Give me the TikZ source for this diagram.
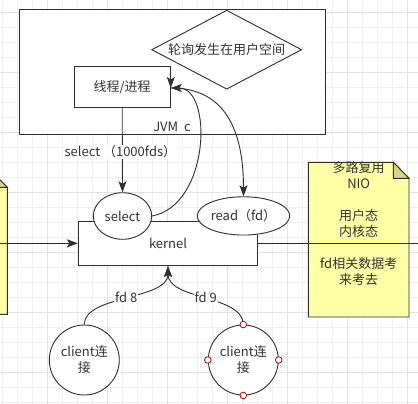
\documentclass[tikz,border=0pt]{standalone}
\usepackage{fontspec}
\setmainfont{Noto Sans CJK SC}
\usetikzlibrary{shapes.geometric,arrows.meta}
\definecolor{ln}{HTML}{2F2F2F}
\definecolor{tx}{HTML}{333333}
\definecolor{gridminor}{HTML}{F0F0F0}
\definecolor{gridmajor}{HTML}{E2E2E2}
\definecolor{notefill}{HTML}{FFFFA6}
\definecolor{foldfill}{HTML}{D8D48C}
\definecolor{handle}{HTML}{B20000}
\tikzset{
  lbl/.style={font=\fontsize{13}{16}\selectfont, text=tx, align=center},
  box/.style={draw=ln, fill=white, line width=0.9pt, inner sep=0pt, lbl},
  ell/.style={ellipse, draw=ln, fill=white, line width=0.9pt, inner sep=0pt, lbl},
  arr/.style={draw=ln, line width=0.9pt, -{Stealth[length=11pt,width=8pt,inset=2.5pt]}},
  conn/.style={draw=ln, line width=0.9pt},
  edgelbl/.style={lbl, fill=white, inner sep=1pt},
  hnd/.style={circle, draw=handle, fill=white, line width=0.8pt, minimum size=6.6pt, inner sep=0pt},
  notebody/.style={draw=ln, fill=notefill, line width=0.9pt},
  notefold/.style={draw=ln, fill=foldfill, line width=0.9pt}
}
\begin{document}
\begin{tikzpicture}[x=1pt,y=-1pt]
\useasboundingbox (0,0) rectangle (418,404);
\clip (0,0) rectangle (418,404);
\fill[white] (0,0) rectangle (418,404);
% grid
\foreach \i in {0,...,27} { \draw[gridminor, line width=0.8pt] ({2.3+15*\i},0) -- ({2.3+15*\i},404); }
\foreach \i in {0,...,26} { \draw[gridminor, line width=0.8pt] (0,{12.3+15*\i}) -- (418,{12.3+15*\i}); }
\foreach \i in {0,...,6} { \draw[gridmajor, line width=0.8pt] ({47.3+60*\i},0) -- ({47.3+60*\i},404); }
\foreach \i in {0,...,6} { \draw[gridmajor, line width=0.8pt] (0,{12.3+60*\i}) -- (418,{12.3+60*\i}); }

% JVM container
\node[box, minimum width=306.4pt, minimum height=125pt] (jvm) at (172.5,71.8) {};
\node[lbl] (jvmlbl) at (172,127) {JVM\ \ c};
\node[diamond, draw=ln, fill=white, line width=0.9pt, inner sep=0pt, shape aspect=1.9,
      minimum width=150pt, minimum height=79pt, lbl] (poll) at (226.7,49.7) {轮询发生在用户空间};
\node[box, minimum width=96.3pt, minimum height=41pt] (thread) at (122.2,86.8) {线程/进程};

% notes
\path[notebody] (-100,171.3) -- (-8.7,171.3) -- (7.3,187.3) -- (7.3,314.3) -- (-100,314.3) -- cycle;
\path[notefold] (-8.7,171.3) -- (-8.7,187.3) -- (7.3,187.3) -- cycle;
\path[notebody] (308.3,162.3) -- (393.3,162.3) -- (409,178.3) -- (409,317) -- (308.3,317) -- cycle;
\path[notefold] (393.3,162.3) -- (393.3,178.3) -- (409,178.3) -- cycle;
\node[lbl] (notetext) at (358.7,223.3) {多路复用\\NIO\\ \\用户态\\内核态\\ \\fd相关数据考\\来考去};

% kernel
\node[box, minimum width=179.4pt, minimum height=44.7pt] (kernel) at (168,243.3) {kernel};
\node[ell, minimum width=58.4pt, minimum height=46.6pt] (select) at (122.5,216) {select};
\node[ell, minimum width=91.6pt, minimum height=38.3pt] (read) at (243.5,215.9) {read（fd）};

\coordinate (lin) at (0,243.3);
\coordinate (rout) at (418,243.3);
\draw[arr] (lin) -- (kernel.west);
\draw[conn] (kernel.east) -- (rout);

% thread -> select
\draw[arr] (thread.south) -- node[edgelbl, pos=0.52, xshift=-2pt] {select （1000fds）} (select.north);

% curves
\coordinate (tin) at ([yshift=-1.2pt]thread.east);
\draw[arr] (select.east) .. controls (210,205) and (213,88) .. (tin);
\draw[arr] (tin) .. controls (225,88) and (243.5,130) .. (read.north);
\draw[arr] ([yshift=12pt]tin) -- (tin);

% clients
\node[circle, draw=ln, fill=white, line width=0.9pt, minimum size=70pt, inner sep=0pt, lbl] (c1) at (84.3,360) {client连\\接};
\node[circle, draw=ln, fill=white, line width=0.9pt, minimum size=70pt, inner sep=0pt, lbl] (c2) at (243.3,360) {client连\\接};
\draw[arr] (c1.north) .. controls (84.3,295) and (168,300) .. node[edgelbl, pos=0.5] {fd 8} (kernel.south);
\draw[arr] (c2.north) .. controls (243.3,295) and (168,300) .. node[edgelbl, pos=0.5] {fd 9} (kernel.south);
\node[hnd] (h1) at (c2.north) {};
\node[hnd] (h2) at (c2.west) {};
\node[hnd] (h3) at (c2.east) {};
\node[hnd] (h4) at (c2.south) {};
\end{tikzpicture}
\end{document}
